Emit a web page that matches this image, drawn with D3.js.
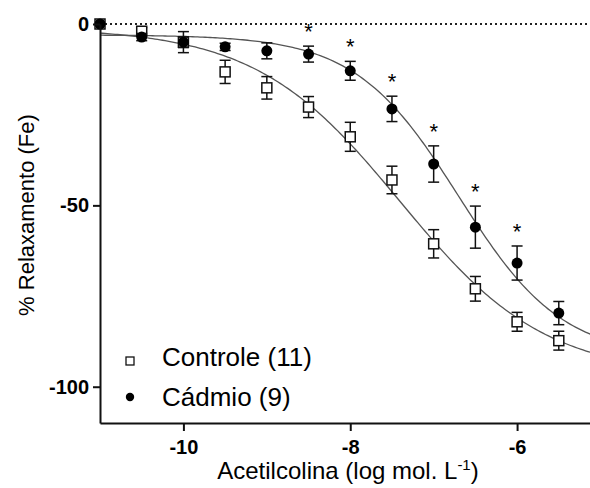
<!doctype html>
<html lang="pt">
	<head>
		<meta charset="utf-8">
		<title>Acetilcolina - curva concentração-resposta</title>
		<script src="https://d3js.org/d3.v7.min.js"></script>
		<style>
			body { margin: 0; background: #fff; }
			svg { display: block; font-family: "Liberation Sans", Arial, sans-serif; }
		</style>
	</head>
	<body>
		<svg id="chart" width="590" height="488"></svg>
		<script>

			// log [ACh] (mol/L)
			var logConc = [-11, -10.5, -10, -9.5, -9, -8.5, -8, -7.5, -7, -6.5, -6, -5.5];

			// mean +- SEM, % relaxation
			var controleMean = [0, -2, -5, -13.2, -17.6, -22.9, -31.1, -43, -60.6, -73, -82.1, -87.3];
			var controleSem  = [0, 1, 2.9, 3.2, 3.1, 2.9, 4, 3.8, 3.9, 3.4, 2.6, 2.6];
			var cadmioMean   = [0, -3.6, -5, -6.3, -7.4, -8.3, -12.9, -23.4, -38.6, -56, -65.9, -79.7];
			var cadmioSem    = [0, 1, 1.5, 1, 2.2, 2.2, 2.6, 3.5, 5, 5.8, 4.7, 3.2];

			// points with * (p < 0.05 vs controle)
			var signifConc = [-8.5, -8, -7.5, -7, -6.5, -6];

			// sigmoid fit: [top, bottom, logEC50, hill]
			var controleFit = [-1, -97, -7.4, 0.5];
			var cadmioFit   = [-3, -92, -6.7, 0.7];

			var xTicks = [-10, -8, -6];
			var yTicks = [0, -50, -100];

			var svg = d3.select('#chart');

			var x = d3.scaleLinear().domain([-11, -5]).range([100, 600.5]);
			var y = d3.scaleLinear().domain([0, -110]).range([24, 423]);

			function fitY(p, v) {
				return p[1] + (p[0] - p[1]) / (1 + Math.pow(10, (v - p[2]) * p[3]));
			}

			// dotted zero line
			svg.append('line')
				.attr('x1', x(-11)).attr('x2', 590)
				.attr('y1', y(0)).attr('y2', y(0))
				.attr('stroke', '#222')
				.attr('stroke-width', 2)
				.attr('stroke-dasharray', '2,3');

			// fitted curves
			var curveX = d3.range(0, 201).map(function(i) { return -11 + i * 6 / 200; });
			var line = d3.line().x(function(d) { return x(d[0]); }).y(function(d) { return y(d[1]); });

			[controleFit, cadmioFit].forEach(function(p) {
				svg.append('path')
					.attr('d', line(curveX.map(function(v) { return [v, fitY(p, v)]; })))
					.attr('fill', 'none')
					.attr('stroke', '#555')
					.attr('stroke-width', 1.3);
			});

			function errorBars(means, sems) {
				var g = svg.append('g').attr('stroke', '#111').attr('stroke-width', 1.5);
				logConc.forEach(function(c, i) {
					if (!sems[i]) return;
					var top = y(means[i] + sems[i]), bot = y(means[i] - sems[i]), cx = x(c);
					g.append('line').attr('x1', cx).attr('x2', cx).attr('y1', top).attr('y2', bot);
					g.append('line').attr('x1', cx - 5.5).attr('x2', cx + 5.5).attr('y1', top).attr('y2', top);
					g.append('line').attr('x1', cx - 5.5).attr('x2', cx + 5.5).attr('y1', bot).attr('y2', bot);
				});
			}

			// Controle: open squares
			errorBars(controleMean, controleSem);
			svg.append('g').selectAll('rect')
				.data(logConc).enter()
				.append('rect')
					.attr('x', function(d) { return x(d) - 5; })
					.attr('y', function(d, i) { return y(controleMean[i]) - 5; })
					.attr('width', 10).attr('height', 10)
					.attr('fill', '#fff')
					.attr('stroke', '#111')
					.attr('stroke-width', 1.5);

			// Cadmio: filled circles
			errorBars(cadmioMean, cadmioSem);
			svg.append('g').selectAll('circle')
				.data(logConc).enter()
				.append('circle')
					.attr('cx', function(d) { return x(d); })
					.attr('cy', function(d, i) { return y(cadmioMean[i]); })
					.attr('r', 5.5)
					.attr('fill', '#000');

			// asterisks
			svg.append('g').selectAll('text')
				.data(signifConc).enter()
				.append('text')
					.attr('x', function(d) { return x(d); })
					.attr('y', function(d) {
						var i = logConc.indexOf(d);
						return y(cadmioMean[i] + cadmioSem[i]) - 7;
					})
					.attr('text-anchor', 'middle')
					.style('font-size', '22px')
					.text('*');

			// axes
			var yAxis = svg.append('g')
				.attr('transform', 'translate(100,0)')
				.call(d3.axisLeft(y).tickValues(yTicks).tickSize(7).tickSizeOuter(0).tickPadding(4)
					.tickFormat(function(d) { return String(d); }));
			var xAxis = svg.append('g')
				.attr('transform', 'translate(0,423)')
				.call(d3.axisBottom(x).tickValues(xTicks).tickSize(8).tickSizeOuter(0).tickPadding(9)
					.tickFormat(function(d) { return String(d); }));

			[yAxis, xAxis].forEach(function(a) {
				a.select('.domain').attr('stroke', '#111').attr('stroke-width', 2);
				a.selectAll('.tick line').attr('stroke', '#111').attr('stroke-width', 2);
				a.selectAll('.tick text')
					.attr('fill', '#000')
					.style('font-family', '"Liberation Sans", Arial, sans-serif')
					.style('font-size', '20px')
					.style('font-weight', 'bold');
			});

			// axis titles
			var xTitle = svg.append('text')
				.attr('x', 348).attr('y', 479)
				.attr('text-anchor', 'middle')
				.style('font-size', '24px')
				.text('Acetilcolina (log mol. L');
			xTitle.append('tspan').attr('dy', -9).style('font-size', '15px').text('-1');
			xTitle.append('tspan').attr('dy', 9).text(')');

			svg.append('text')
				.attr('transform', 'translate(34,215) rotate(-90)')
				.attr('text-anchor', 'middle')
				.style('font-size', '22px')
				.text('% Relaxamento (Fe)');

			// legend
			var legend = svg.append('g');
			legend.append('rect')
				.attr('x', 126).attr('y', 357).attr('width', 8).attr('height', 8)
				.attr('fill', '#fff').attr('stroke', '#111').attr('stroke-width', 1.3);
			legend.append('circle')
				.attr('cx', 130).attr('cy', 397).attr('r', 4.2).attr('fill', '#000');
			legend.append('text')
				.attr('x', 162).attr('y', 366)
				.style('font-size', '26px')
				.text('Controle (11)');
			legend.append('text')
				.attr('x', 162).attr('y', 406)
				.style('font-size', '26px')
				.text('Cádmio (9)');

		</script>
	</body>
</html>
